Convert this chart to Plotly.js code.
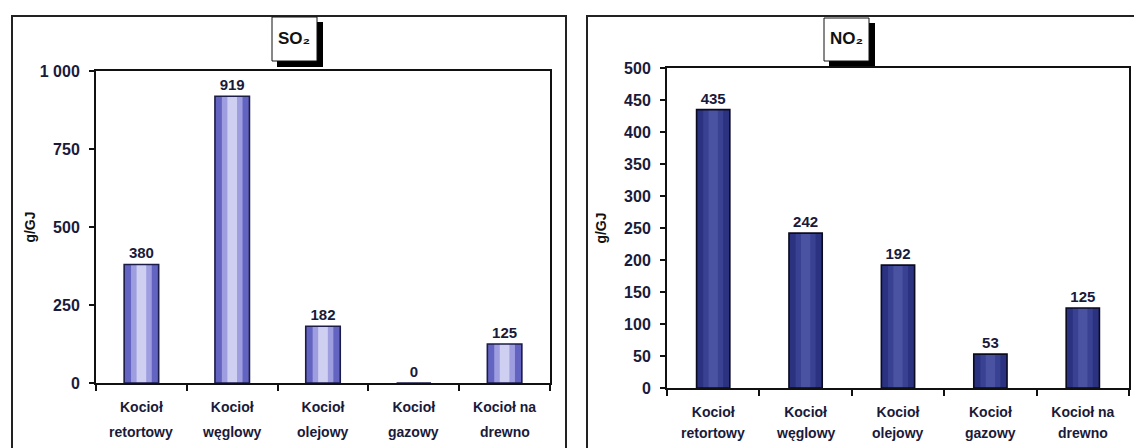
<!DOCTYPE html>
<html>
<head>
<meta charset="utf-8">
<script src="https://cdn.plot.ly/plotly-3.0.1.min.js"></script>
<style>
html,body{margin:0;padding:0;background:#fff;}
#chart{width:1134px;height:448px;}
</style>
</head>
<body>
<div id="chart"></div>
<script>
// ---- data ----
const categories = ["Kocioł retortowy", "Kocioł węglowy", "Kocioł olejowy", "Kocioł gazowy", "Kocioł na drewno"];
const labelLine1 = ["Kocioł", "Kocioł", "Kocioł", "Kocioł", "Kocioł na"];
const labelLine2 = ["retortowy", "węglowy", "olejowy", "gazowy", "drewno"];
const so2Values = [380, 919, 182, 0, 125];
const no2Values = [435, 242, 192, 53, 125];
const so2TickVals = [0, 250, 500, 750, 1000];
const so2TickText = ["0", "250", "500", "750", "1 000"];
const no2TickVals = [0, 50, 100, 150, 200, 250, 300, 350, 400, 450, 500];
const no2TickText = ["0", "50", "100", "150", "200", "250", "300", "350", "400", "450", "500"];
const so2Title = "SO₂";
const no2Title = "NO₂";
const unitTitle = "g/GJ";

// ---- helpers ----
const W = 1134, H = 448;
const px = v => v / W;
const py = v => 1 - v / H;
const FONT = "Liberation Sans, Arial, sans-serif";
const TXT = "#1a1a3a";

function barLayers(values, xa, ya, colors, width, outline) {
  const layers = [];
  const fracs = [1, 0.6, 0.28];
  for (let i = 0; i < 3; i++) {
    layers.push({
      type: "bar", x: categories, y: values, xaxis: xa, yaxis: ya,
      width: width * fracs[i],
      marker: {color: colors[i], line: {width: 0}},
      hoverinfo: "skip", showlegend: false
    });
  }
  layers.push({
    type: "bar", x: categories, y: values, xaxis: xa, yaxis: ya,
    width: width,
    marker: {color: "rgba(0,0,0,0)", line: {width: 1.6, color: outline}},
    text: values.map(String), textposition: "outside", cliponaxis: false,
    textfont: {family: FONT, size: 15, color: TXT, weight: "bold"},
    showlegend: false
  });
  return layers;
}

const data = [].concat(
  barLayers(so2Values, "x", "y", ["#6363c2", "#9d9de0", "#cfcff1"], 0.38, "#1c1c48"),
  barLayers(no2Values, "x2", "y2", ["#2b3280", "#394192", "#4a52a2"], 0.36, "#0a0a20")
);

const alias = {};
categories.forEach((c, i) => { alias[c] = labelLine1[i]; });

function xAxis(domain, anchor) {
  return {
    domain: domain, anchor: anchor, type: "category",
    categoryorder: "array", categoryarray: categories,
    tickmode: "linear", dtick: 1, labelalias: alias,
    tickson: "boundaries", ticks: "outside", ticklen: 6, tickwidth: 2, tickcolor: "#111",
    ticklabelstandoff: 10,
    tickfont: {family: FONT, size: 14, color: TXT, weight: "bold"},
    showline: true, linecolor: "#111", linewidth: 2, mirror: true,
    showgrid: false, zeroline: false, automargin: false, fixedrange: true
  };
}
function yAxis(domain, anchor, range, tv, tt, standoff) {
  return {
    domain: domain, anchor: anchor, range: range,
    tickmode: "array", tickvals: tv, ticktext: tt,
    ticks: "outside", ticklen: 5, tickwidth: 2, tickcolor: "#111",
    ticklabelstandoff: 6,
    tickfont: {family: FONT, size: 16, color: TXT, weight: "bold"},
    showline: true, linecolor: "#111", linewidth: 2, mirror: true,
    showgrid: false, zeroline: false, automargin: false, fixedrange: true,
    title: {text: unitTitle, font: {family: FONT, size: 14, color: "#111", weight: "bold"}, standoff: standoff}
  };
}

const annotations = [];
function addLine2(xa, yPix) {
  categories.forEach((c, i) => {
    annotations.push({
      xref: xa, yref: "paper", x: c, y: py(yPix),
      text: labelLine2[i], showarrow: false, xanchor: "center", yanchor: "middle",
      font: {family: FONT, size: 14, color: TXT, weight: "bold"}
    });
  });
}
addLine2("x", 432);
addLine2("x2", 433);

annotations.push({xref: "paper", yref: "paper", x: px(294), y: py(38), xanchor: "center", yanchor: "middle", text: so2Title, showarrow: false,
  font: {family: FONT, size: 17, color: "#111", weight: "bold"}});
annotations.push({xref: "paper", yref: "paper", x: px(846), y: py(38), xanchor: "center", yanchor: "middle", text: no2Title, showarrow: false,
  font: {family: FONT, size: 17, color: "#111", weight: "bold"}});

function rect(x0, y0, x1, y1, fill, line, lw) {
  return {type: "rect", xref: "paper", yref: "paper", x0: px(x0), x1: px(x1), y0: py(y1), y1: py(y0),
    fillcolor: fill, line: {color: line, width: lw}, layer: "below"};
}
const shapes = [
  rect(12, 16, 566, 470, "rgba(0,0,0,0)", "#222", 2),
  rect(587, 16, 1150, 470, "rgba(0,0,0,0)", "#222", 2),
  rect(277, 22, 323, 67, "#000", "#000", 0),
  rect(272, 17, 317, 61, "#fff", "#111", 1),
  rect(829, 23, 875, 68, "#000", "#000", 0),
  rect(824, 18, 869, 61, "#fff", "#111", 1)
];

const layout = {
  width: W, height: H,
  margin: {l: 0, r: 0, t: 0, b: 0},
  paper_bgcolor: "#fff", plot_bgcolor: "#fff",
  barmode: "overlay",
  showlegend: false,
  xaxis: xAxis([px(96), px(550)], "y"),
  yaxis: yAxis([py(383), py(71)], "x", [0, 1000], so2TickVals, so2TickText, 1),
  xaxis2: xAxis([px(667), px(1129)], "y2"),
  yaxis2: yAxis([py(388), py(68)], "x2", [0, 500], no2TickVals, no2TickText, 14),
  annotations: annotations,
  shapes: shapes
};

Plotly.newPlot("chart", data, layout, {staticPlot: true, displayModeBar: false});
</script>
</body>
</html>
